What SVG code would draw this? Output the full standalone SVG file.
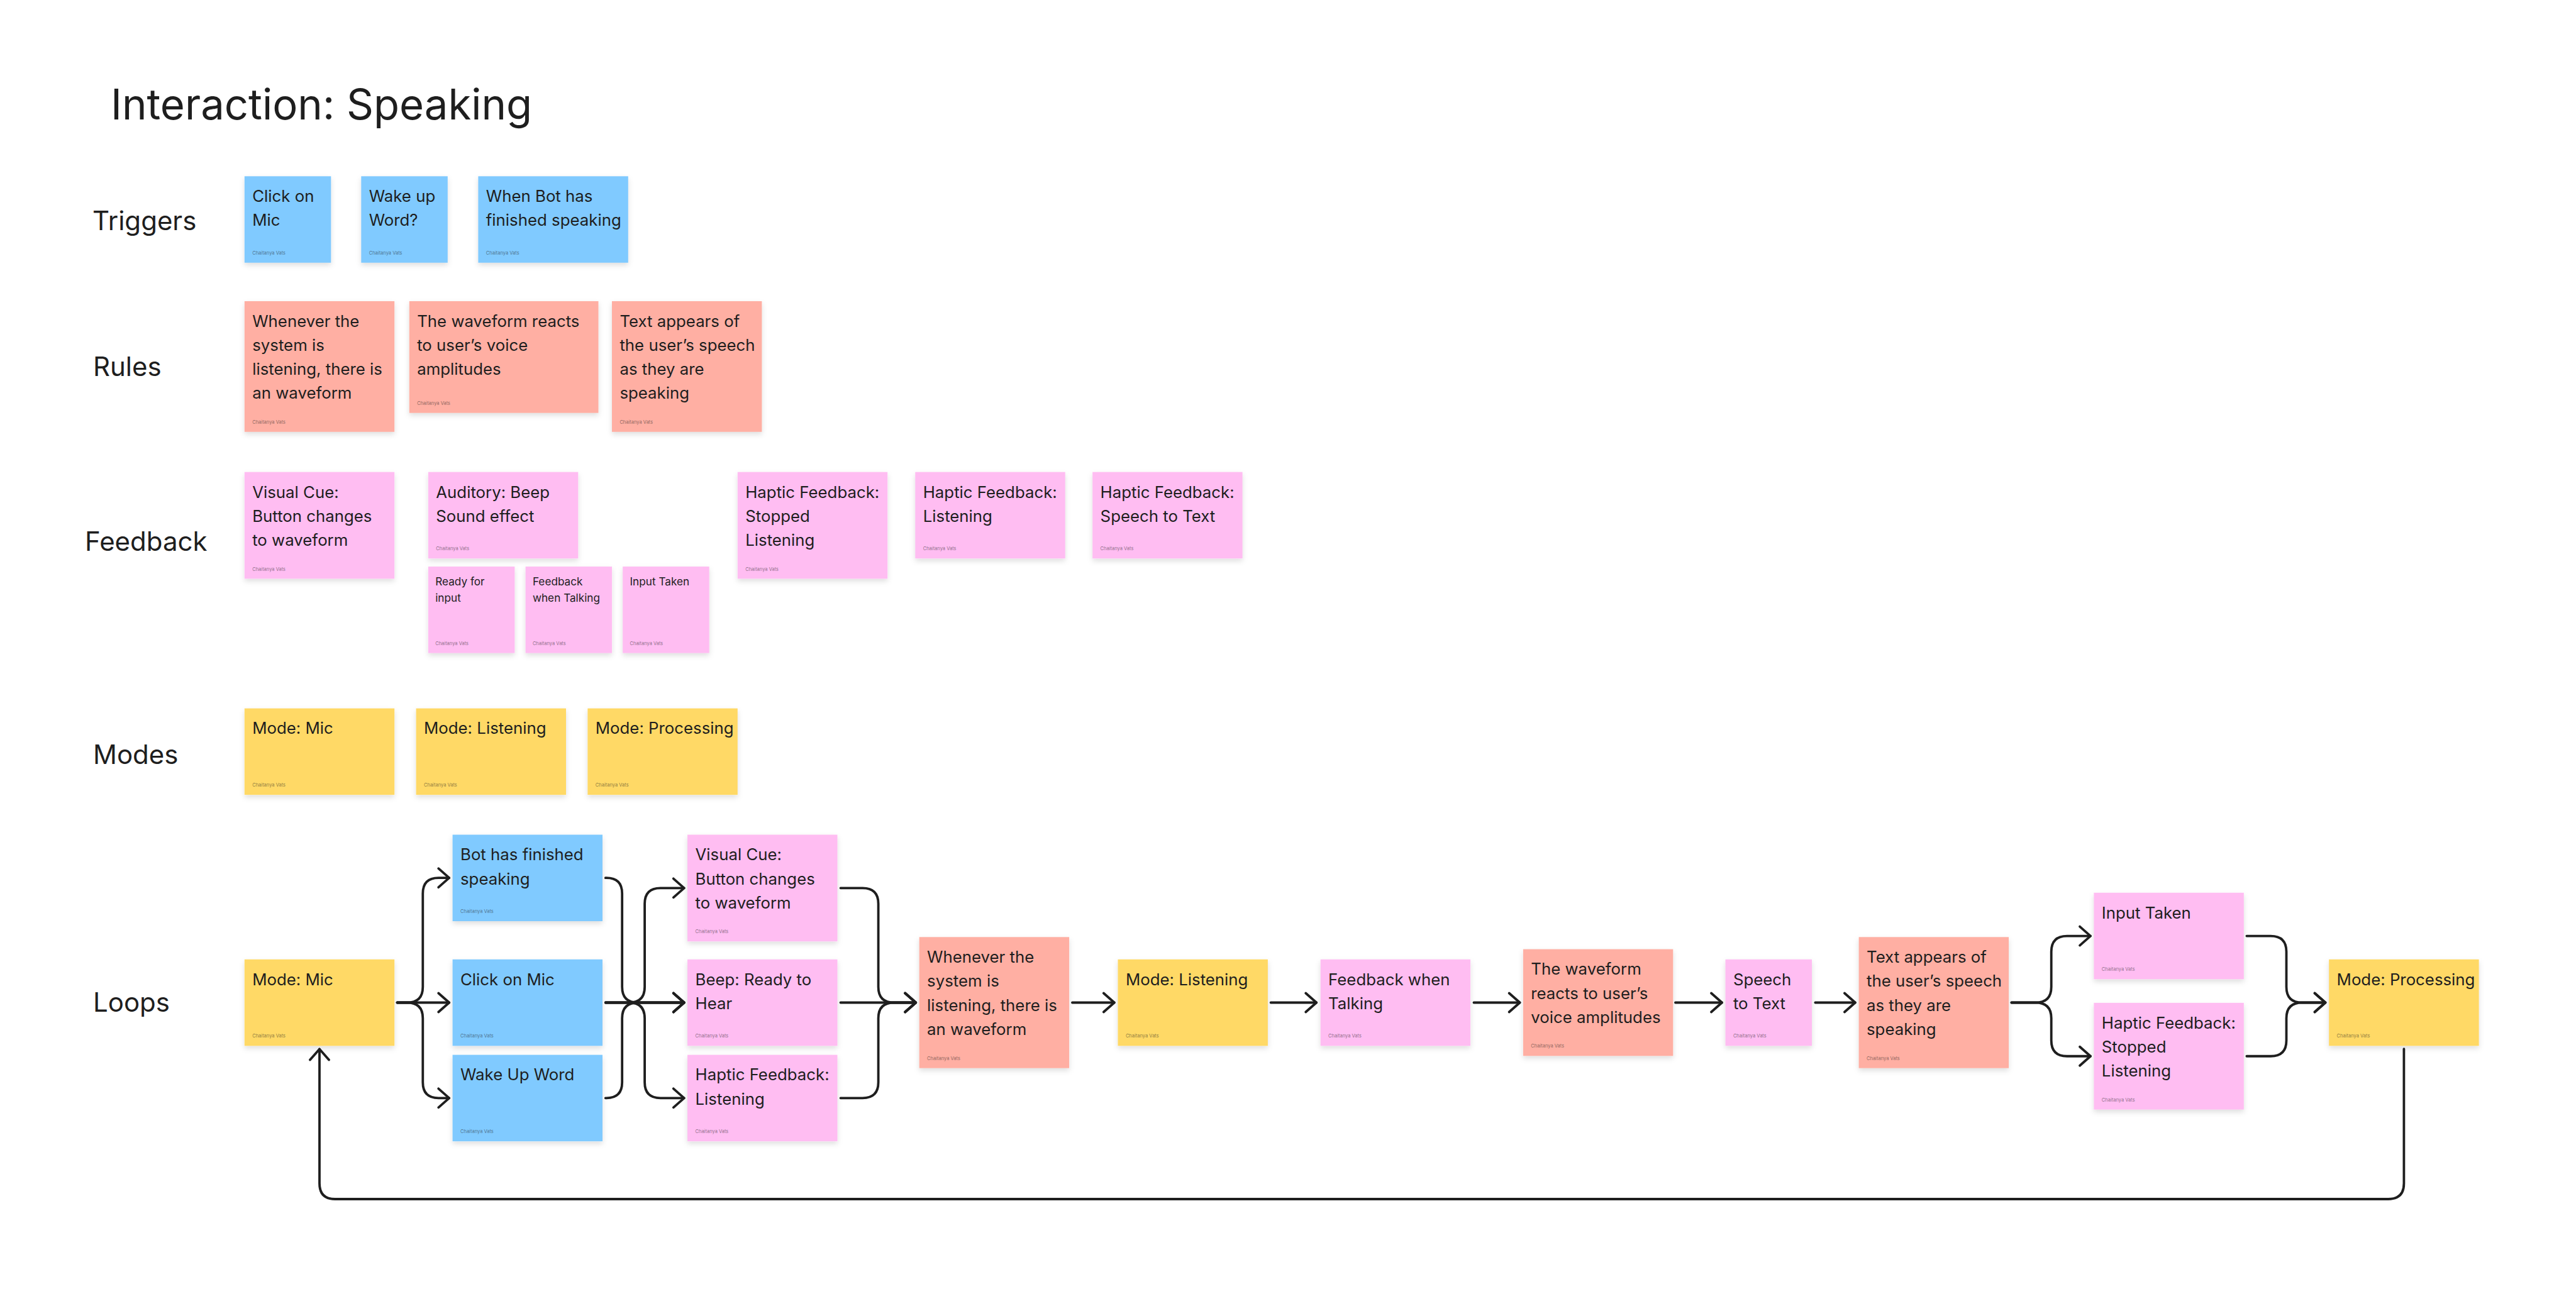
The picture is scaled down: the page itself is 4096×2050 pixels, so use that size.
<svg xmlns="http://www.w3.org/2000/svg" width="4096" height="2050" viewBox="0 0 4096 2050">
<style>
text{font-family:Inter,"Liberation Sans",sans-serif;fill:#1E1E1E}
.title{font-size:67px}
.lbl{font-size:42px}
.t{font-size:25.8px}
.ts{font-size:17.2px}
.a{font-size:7.5px;fill:#1E1E1E;fill-opacity:0.55}
.s{filter:url(#sh)}
.blue{fill:#80CAFF}
.red{fill:#FFAFA3}
.pink{fill:#FFBDF2}
.yellow{fill:#FFD966}
.conn path{fill:none;stroke:#1E1E1E;stroke-width:3.8;stroke-linecap:round;stroke-linejoin:round;marker-end:url(#arr)}
</style>
<defs>
<filter id="sh" x="-10%" y="-10%" width="120%" height="140%">
<feDropShadow dx="0" dy="4" stdDeviation="4" flood-color="#000" flood-opacity="0.13"/>
</filter>
<marker id="arr" markerUnits="userSpaceOnUse" viewBox="-22 -20 26 40" markerWidth="26" markerHeight="40" refX="0" refY="0" orient="auto">
<path d="M-17 -15 L0 0 L-17 15" fill="none" stroke="#1E1E1E" stroke-width="3.8" stroke-linecap="round" stroke-linejoin="round"/>
</marker>
</defs>
<rect width="4096" height="2050" fill="#FFFFFF"/>

<text class="title" x="176" y="190">Interaction: Speaking</text>
<g id="labels">
<text class="lbl" x="147" y="366">Triggers</text>
<text class="lbl" x="148" y="598">Rules</text>
<text class="lbl" x="135" y="876">Feedback</text>
<text class="lbl" x="148" y="1215">Modes</text>
<text class="lbl" x="148" y="1609">Loops</text>
</g>

<!-- Triggers -->
<g id="t1"><rect class="s blue" x="388.8" y="280.3" width="137.5" height="137.5"/>
<text class="t"><tspan x="401.2" y="321.1">Click on</tspan><tspan x="401.2" y="359.3">Mic</tspan></text>
<text class="a" x="401.2" y="404.9">Chaitanya Vats</text></g>
<g id="t2"><rect class="s blue" x="574.3" y="280.3" width="137.5" height="137.5"/>
<text class="t"><tspan x="586.7" y="321.1">Wake up</tspan><tspan x="586.7" y="359.3">Word?</tspan></text>
<text class="a" x="586.7" y="404.9">Chaitanya Vats</text></g>
<g id="t3"><rect class="s blue" x="760.4" y="280.3" width="238.4" height="137.5"/>
<text class="t"><tspan x="772.8" y="321.1">When Bot has</tspan><tspan x="772.8" y="359.3">finished speaking</tspan></text>
<text class="a" x="772.8" y="404.9">Chaitanya Vats</text></g>

<!-- Rules -->
<g id="r1"><rect class="s red" x="388.8" y="479" width="238.4" height="207.8"/>
<text class="t"><tspan x="401.2" y="519.8">Whenever the</tspan><tspan x="401.2" y="558">system is</tspan><tspan x="401.2" y="596.2">listening, there is</tspan><tspan x="401.2" y="634.4">an waveform</tspan></text>
<text class="a" x="401.2" y="673.9">Chaitanya Vats</text></g>
<g id="r2"><rect class="s red" x="650.8" y="479" width="300.7" height="177.7"/>
<text class="t"><tspan x="663.2" y="519.8">The waveform reacts</tspan><tspan x="663.2" y="558">to user’s voice</tspan><tspan x="663.2" y="596.2">amplitudes</tspan></text>
<text class="a" x="663.2" y="643.8">Chaitanya Vats</text></g>
<g id="r3"><rect class="s red" x="973" y="479" width="238.4" height="207.8"/>
<text class="t"><tspan x="985.4" y="519.8">Text appears of</tspan><tspan x="985.4" y="558">the user’s speech</tspan><tspan x="985.4" y="596.2">as they are</tspan><tspan x="985.4" y="634.4">speaking</tspan></text>
<text class="a" x="985.4" y="673.9">Chaitanya Vats</text></g>

<!-- Feedback -->
<g id="f1"><rect class="s pink" x="388.8" y="750.7" width="238.4" height="169.7"/>
<text class="t"><tspan x="401.2" y="791.5">Visual Cue:</tspan><tspan x="401.2" y="829.7">Button changes</tspan><tspan x="401.2" y="867.9">to waveform</tspan></text>
<text class="a" x="401.2" y="907.5">Chaitanya Vats</text></g>
<g id="f2"><rect class="s pink" x="680.9" y="750.7" width="238.4" height="137.5"/>
<text class="t"><tspan x="693.3" y="791.5">Auditory: Beep</tspan><tspan x="693.3" y="829.7">Sound effect</tspan></text>
<text class="a" x="693.3" y="875.3">Chaitanya Vats</text></g>
<g id="f3"><rect class="s pink" x="680.9" y="901.1" width="137.5" height="137.5"/>
<text class="ts"><tspan x="692.2" y="931.2">Ready for</tspan><tspan x="692.2" y="957">input</tspan></text>
<text class="a" x="692.2" y="1025.7">Chaitanya Vats</text></g>
<g id="f4"><rect class="s pink" x="835.6" y="901.1" width="137.5" height="137.5"/>
<text class="ts"><tspan x="846.9" y="931.2">Feedback</tspan><tspan x="846.9" y="957">when Talking</tspan></text>
<text class="a" x="846.9" y="1025.7">Chaitanya Vats</text></g>
<g id="f5"><rect class="s pink" x="990.2" y="901.1" width="137.5" height="137.5"/>
<text class="ts"><tspan x="1001.5" y="931.2">Input Taken</tspan></text>
<text class="a" x="1001.5" y="1025.7">Chaitanya Vats</text></g>
<g id="f6"><rect class="s pink" x="1172.8" y="750.7" width="238.4" height="169.7"/>
<text class="t"><tspan x="1185.2" y="791.5">Haptic Feedback:</tspan><tspan x="1185.2" y="829.7">Stopped</tspan><tspan x="1185.2" y="867.9">Listening</tspan></text>
<text class="a" x="1185.2" y="907.5">Chaitanya Vats</text></g>
<g id="f7"><rect class="s pink" x="1455.3" y="750.7" width="238.4" height="137.5"/>
<text class="t"><tspan x="1467.7" y="791.5">Haptic Feedback:</tspan><tspan x="1467.7" y="829.7">Listening</tspan></text>
<text class="a" x="1467.7" y="875.3">Chaitanya Vats</text></g>
<g id="f8"><rect class="s pink" x="1737.2" y="750.7" width="238.4" height="137.5"/>
<text class="t"><tspan x="1749.6" y="791.5">Haptic Feedback:</tspan><tspan x="1749.6" y="829.7">Speech to Text</tspan></text>
<text class="a" x="1749.6" y="875.3">Chaitanya Vats</text></g>

<!-- Modes -->
<g id="m1"><rect class="s yellow" x="388.8" y="1126.6" width="238.4" height="137.5"/>
<text class="t" x="401.2" y="1167.4">Mode: Mic</text>
<text class="a" x="401.2" y="1251.2">Chaitanya Vats</text></g>
<g id="m2"><rect class="s yellow" x="661.6" y="1126.6" width="238.4" height="137.5"/>
<text class="t" x="674" y="1167.4">Mode: Listening</text>
<text class="a" x="674" y="1251.2">Chaitanya Vats</text></g>
<g id="m3"><rect class="s yellow" x="934.4" y="1126.6" width="238.4" height="137.5"/>
<text class="t" x="946.8" y="1167.4">Mode: Processing</text>
<text class="a" x="946.8" y="1251.2">Chaitanya Vats</text></g>

<!-- Loops -->
<g id="l1"><rect class="s yellow" x="388.8" y="1525.8" width="238.4" height="137.5"/>
<text class="t" x="401.2" y="1566.6">Mode: Mic</text>
<text class="a" x="401.2" y="1650.4">Chaitanya Vats</text></g>
<g id="l2"><rect class="s blue" x="719.6" y="1327.5" width="238.4" height="137.5"/>
<text class="t"><tspan x="732" y="1368.3">Bot has finished</tspan><tspan x="732" y="1406.5">speaking</tspan></text>
<text class="a" x="732" y="1452.1">Chaitanya Vats</text></g>
<g id="l3"><rect class="s blue" x="719.6" y="1525.8" width="238.4" height="137.5"/>
<text class="t" x="732" y="1566.6">Click on Mic</text>
<text class="a" x="732" y="1650.4">Chaitanya Vats</text></g>
<g id="l4"><rect class="s blue" x="719.6" y="1677.6" width="238.4" height="137.5"/>
<text class="t" x="732" y="1718.4">Wake Up Word</text>
<text class="a" x="732" y="1802.2">Chaitanya Vats</text></g>
<g id="l5"><rect class="s pink" x="1093.1" y="1327.5" width="238.4" height="169.7"/>
<text class="t"><tspan x="1105.5" y="1368.3">Visual Cue:</tspan><tspan x="1105.5" y="1406.5">Button changes</tspan><tspan x="1105.5" y="1444.7">to waveform</tspan></text>
<text class="a" x="1105.5" y="1484.3">Chaitanya Vats</text></g>
<g id="l6"><rect class="s pink" x="1093.1" y="1525.8" width="238.4" height="137.5"/>
<text class="t"><tspan x="1105.5" y="1566.6">Beep: Ready to</tspan><tspan x="1105.5" y="1604.8">Hear</tspan></text>
<text class="a" x="1105.5" y="1650.4">Chaitanya Vats</text></g>
<g id="l7"><rect class="s pink" x="1093.1" y="1677.6" width="238.4" height="137.5"/>
<text class="t"><tspan x="1105.5" y="1718.4">Haptic Feedback:</tspan><tspan x="1105.5" y="1756.6">Listening</tspan></text>
<text class="a" x="1105.5" y="1802.2">Chaitanya Vats</text></g>
<g id="l8"><rect class="s red" x="1461.7" y="1490.3" width="238.4" height="208.4"/>
<text class="t"><tspan x="1474.1" y="1531.1">Whenever the</tspan><tspan x="1474.1" y="1569.3">system is</tspan><tspan x="1474.1" y="1607.5">listening, there is</tspan><tspan x="1474.1" y="1645.7">an waveform</tspan></text>
<text class="a" x="1474.1" y="1685.8">Chaitanya Vats</text></g>
<g id="l9"><rect class="s yellow" x="1777.5" y="1525.8" width="238.4" height="137.5"/>
<text class="t" x="1789.9" y="1566.6">Mode: Listening</text>
<text class="a" x="1789.9" y="1650.4">Chaitanya Vats</text></g>
<g id="l10"><rect class="s pink" x="2099.7" y="1525.8" width="238.4" height="137.5"/>
<text class="t"><tspan x="2112.1" y="1566.6">Feedback when</tspan><tspan x="2112.1" y="1604.8">Talking</tspan></text>
<text class="a" x="2112.1" y="1650.4">Chaitanya Vats</text></g>
<g id="l11"><rect class="s red" x="2421.9" y="1509.6" width="238.4" height="169.7"/>
<text class="t"><tspan x="2434.3" y="1550.4">The waveform</tspan><tspan x="2434.3" y="1588.6">reacts to user’s</tspan><tspan x="2434.3" y="1626.8">voice amplitudes</tspan></text>
<text class="a" x="2434.3" y="1666.4">Chaitanya Vats</text></g>
<g id="l12"><rect class="s pink" x="2743.5" y="1525.8" width="137.5" height="137.5"/>
<text class="t"><tspan x="2755.9" y="1566.6">Speech</tspan><tspan x="2755.9" y="1604.8">to Text</tspan></text>
<text class="a" x="2755.9" y="1650.4">Chaitanya Vats</text></g>
<g id="l13"><rect class="s red" x="2955.6" y="1490.3" width="238.4" height="208.4"/>
<text class="t"><tspan x="2968" y="1531.1">Text appears of</tspan><tspan x="2968" y="1569.3">the user’s speech</tspan><tspan x="2968" y="1607.5">as they are</tspan><tspan x="2968" y="1645.7">speaking</tspan></text>
<text class="a" x="2968" y="1685.8">Chaitanya Vats</text></g>
<g id="l14"><rect class="s pink" x="3329.4" y="1419.8" width="238.4" height="137.5"/>
<text class="t" x="3341.8" y="1460.6">Input Taken</text>
<text class="a" x="3341.8" y="1544.4">Chaitanya Vats</text></g>
<g id="l15"><rect class="s pink" x="3329.4" y="1594.9" width="238.4" height="169.7"/>
<text class="t"><tspan x="3341.8" y="1635.7">Haptic Feedback:</tspan><tspan x="3341.8" y="1673.9">Stopped</tspan><tspan x="3341.8" y="1712.1">Listening</tspan></text>
<text class="a" x="3341.8" y="1751.7">Chaitanya Vats</text></g>
<g id="l16"><rect class="s yellow" x="3703.2" y="1525.8" width="238.4" height="137.5"/>
<text class="t" x="3715.6" y="1566.6">Mode: Processing</text>
<text class="a" x="3715.6" y="1650.4">Chaitanya Vats</text></g>

<g id="connectors" class="conn">
<path d="M631.5 1594.5 H714.2"/>
<path d="M631.5 1594.5 H647.3 Q672.3 1594.5 672.3 1569.5 V1421.2 Q672.3 1396.2 697.3 1396.2 H714.2"/>
<path d="M631.5 1594.5 H647.3 Q672.3 1594.5 672.3 1619.5 V1721.35 Q672.3 1746.35 697.3 1746.35 H714.2"/>
<path d="M962.8 1396.2 H964.2 Q989.2 1396.2 989.2 1421.2 V1569.5 Q989.2 1594.5 1014.2 1594.5 H1087.8"/>
<path d="M962.8 1594.5 H1087.8"/>
<path d="M962.8 1746.35 H964.2 Q989.2 1746.35 989.2 1721.35 V1619.5 Q989.2 1594.5 1014.2 1594.5 H1087.8"/>
<path d="M962.8 1594.5 H1000.1 Q1025.1 1594.5 1025.1 1569.5 V1437.35 Q1025.1 1412.35 1050.1 1412.35 H1087.8"/>
<path d="M962.8 1594.5 H1000.1 Q1025.1 1594.5 1025.1 1619.5 V1721.35 Q1025.1 1746.35 1050.1 1746.35 H1087.8"/>
<path d="M1336.6 1412.35 H1371.6 Q1396.6 1412.35 1396.6 1437.35 V1569.5 Q1396.6 1594.5 1421.6 1594.5 H1456.2"/>
<path d="M1336.6 1594.5 H1456.2"/>
<path d="M1336.6 1746.35 H1371.6 Q1396.6 1746.35 1396.6 1721.35 V1619.5 Q1396.6 1594.5 1421.6 1594.5 H1456.2"/>
<path d="M1705 1594.5 H1771.8"/>
<path d="M2020.7 1594.5 H2093.2"/>
<path d="M2343.5 1594.5 H2416.6"/>
<path d="M2664 1594.5 H2738"/>
<path d="M2886.4 1594.5 H2949.9"/>
<path d="M3198.4 1594.5 H3236.7 Q3261.7 1594.5 3261.7 1569.5 V1513.55 Q3261.7 1488.55 3286.7 1488.55 H3324"/>
<path d="M3198.4 1594.5 H3236.7 Q3261.7 1594.5 3261.7 1619.5 V1654.75 Q3261.7 1679.75 3286.7 1679.75 H3324"/>
<path d="M3572.4 1488.55 H3610.5 Q3635.5 1488.55 3635.5 1513.55 V1569.5 Q3635.5 1594.5 3660.5 1594.5 H3697.5"/>
<path d="M3572.4 1679.75 H3610.5 Q3635.5 1679.75 3635.5 1654.75 V1619.5 Q3635.5 1594.5 3660.5 1594.5 H3697.5"/>
<path d="M3822.4 1668.2 V1882 Q3822.4 1907 3797.4 1907 H533 Q508 1907 508 1882 V1668.5"/>
</g>
</svg>
